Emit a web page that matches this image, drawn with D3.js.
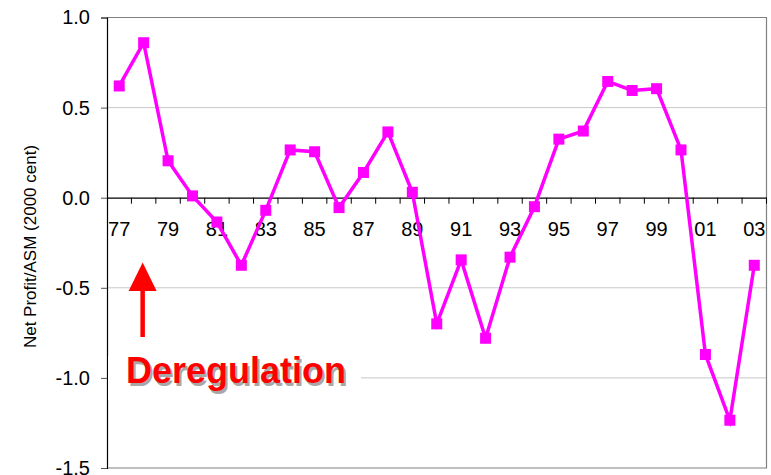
<!DOCTYPE html>
<html><head><meta charset="utf-8">
<script src="https://cdn.jsdelivr.net/npm/d3@7"></script>
<style>body{margin:0;background:#fff}svg{display:block}</style>
</head><body>
<script>
const years = ["77","78","79","80","81","82","83","84","85","86","87","88","89","90","91","92","93","94","95","96","97","98","99","00","01","02","03"];
const profit = [0.62,0.86,0.205,0.01,-0.135,-0.375,-0.07,0.265,0.255,-0.055,0.14,0.365,0.03,-0.70,-0.345,-0.78,-0.33,-0.05,0.325,0.37,0.645,0.595,0.605,0.265,-0.87,-1.235,-0.375];
const yTicks = [1.0,0.5,0.0,-0.5,-1.0,-1.5];
const annotation = "Deregulation";
const yTitle = "Net Profit/ASM (2000 cent)";

const W=771,H=475, L=107, R=766.5, T=17.5, B=468;
const svg=d3.select("body").append("svg").attr("width",W).attr("height",H);
const x=d3.scaleBand().domain(years).range([L,R]);
const y=d3.scaleLinear().domain([-1.5,1.0]).range([B,T]);
const font="Liberation Sans, Arial, sans-serif";

// gridlines
svg.append("g").selectAll("line").data(yTicks.filter(v=>v!==0&&v!==1&&v!==-1.5)).join("line")
 .attr("x1",L).attr("x2",R).attr("y1",d=>y(d)).attr("y2",d=>y(d)).attr("stroke","#c8c8c8").attr("stroke-width",1);
// border
svg.append("path").attr("d",`M${L},${T}H${R}V${B}H${L}`).attr("fill","none").attr("stroke","#808080").attr("stroke-width",1.2);

// y axis
const ya=svg.append("g").attr("transform",`translate(${L},0)`).call(d3.axisLeft(y).tickValues(yTicks).tickFormat(d=>d.toFixed(1)).tickSize(6).tickPadding(11));
ya.select(".domain").attr("stroke","#000").attr("stroke-width",1.2);
ya.selectAll(".tick line").attr("stroke","#555");
ya.selectAll("text").attr("font-family",font).attr("font-size",20).attr("fill","#000");

// x axis at zero
const xa=svg.append("g").attr("transform",`translate(0,${y(0)})`).call(d3.axisBottom(x).tickValues(years.filter((d,i)=>i%2===0)).tickSize(0).tickPadding(24));
xa.select(".domain").attr("stroke","#000").attr("stroke-width",1.2);
xa.selectAll("text").attr("font-family",font).attr("font-size",20).attr("fill","#000");
// boundary ticks
svg.append("g").selectAll("line").data(years.slice(1).concat(["__end"])).join("line")
 .attr("x1",d=>d==="__end"?R:x(d)).attr("x2",d=>d==="__end"?R:x(d)).attr("y1",y(0)).attr("y2",y(0)+6).attr("stroke","#000").attr("stroke-width",1);

// annotation background & text
const ax=x("78")+x.bandwidth()/2-1;
svg.append("rect").attr("x",L+1).attr("y",y(-1.0)-22).attr("width",253).attr("height",44).attr("fill","#fff");
svg.append("text").attr("x",128).attr("y",385.5).attr("font-family",font).attr("font-weight","bold").attr("font-size",36).attr("fill","#a8a8a8").text(annotation);
svg.append("text").attr("x",126).attr("y",383).attr("font-family",font).attr("font-weight","bold").attr("font-size",36).attr("fill","#ff0000").text(annotation);
// arrow
svg.append("line").attr("x1",ax).attr("x2",ax).attr("y1",337).attr("y2",285).attr("stroke","#ff0000").attr("stroke-width",4.5);
svg.append("path").attr("d",`M${ax},262.5L${ax-14},291L${ax+14},291Z`).attr("fill","#ff0000");

// y title
svg.append("text").attr("transform",`translate(36,246.5) rotate(-90)`).attr("text-anchor","middle")
 .attr("font-family",font).attr("font-size",17).attr("fill","#000").text(yTitle);

// series
const cx=d=>x(d)+x.bandwidth()/2;
svg.append("path").datum(profit).attr("fill","none").attr("stroke","#ff00ff").attr("stroke-width",3.5)
 .attr("d",d3.line().x((d,i)=>cx(years[i])).y(d=>y(d)));
svg.append("g").selectAll("rect").data(profit).join("rect")
 .attr("x",(d,i)=>cx(years[i])-5.5).attr("y",d=>y(d)-5.5).attr("width",11).attr("height",11).attr("fill","#ff00ff");
</script>
</body></html>
